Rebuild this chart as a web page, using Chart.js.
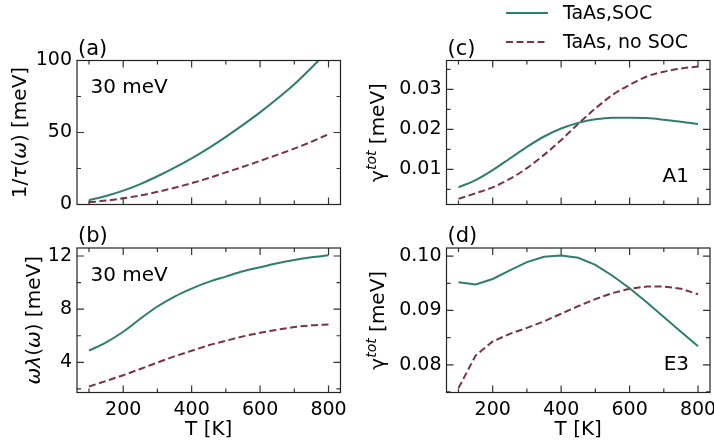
<!DOCTYPE html>
<html>
<head>
<meta charset="utf-8">
<script src="https://cdn.jsdelivr.net/npm/chart.js@4.4.1/dist/chart.umd.min.js"></script>
<style>
  html, body { margin: 0; padding: 0; background: #fff; }
  #wrap { position: relative; width: 714px; height: 447px; overflow: hidden; }
  #wrap canvas { position: absolute; left: 0; top: 0; }
</style>
</head>
<body>
<div id="wrap"></div>
<script>
// temperatures (K)
const temps = [100, 150, 200, 250, 300, 350, 400, 450, 500, 550, 600, 650, 700, 750, 800];

// (a) 1/tau(omega) [meV]
const tauSOC   = [3.0, 5.9, 9.6, 14.2, 19.6, 25.6, 32.1, 39.2, 47.0, 55.3, 64.0, 73.4, 83.5, 95.0, 107.0];
const tauNoSOC = [1.5, 2.7, 4.3, 6.3, 8.8, 11.6, 14.8, 18.4, 22.3, 26.2, 30.3, 34.5, 38.8, 43.6, 48.8];

// (b) omega*lambda(omega) [meV]
const lamSOC   = [4.88, 5.5, 6.3, 7.28, 8.2, 8.95, 9.55, 10.05, 10.45, 10.85, 11.15, 11.45, 11.7, 11.9, 12.05];
const lamNoSOC = [2.18, 2.6, 3.03, 3.5, 3.98, 4.45, 4.87, 5.28, 5.62, 5.95, 6.22, 6.45, 6.65, 6.78, 6.85];

// (c) gamma^tot, A1 [meV]
const a1SOC   = [0.0055, 0.0073, 0.0098, 0.0127, 0.0156, 0.0182, 0.0202, 0.0216, 0.0225, 0.0229, 0.0229, 0.0228, 0.0224, 0.0219, 0.0213];
const a1NoSOC = [0.0026, 0.0040, 0.0055, 0.0076, 0.0103, 0.0136, 0.0173, 0.0214, 0.0252, 0.0286, 0.0311, 0.0332, 0.0344, 0.0352, 0.0357];

// (d) gamma^tot, E3 [meV]
const e3SOC   = [0.0952, 0.0948, 0.0958, 0.0974, 0.0989, 0.0999, 0.1001, 0.0997, 0.0984, 0.0964, 0.0941, 0.0915, 0.0888, 0.0861, 0.0834];
const e3NoSOC = [0.0757, 0.0817, 0.0843, 0.0857, 0.0868, 0.0880, 0.0894, 0.0908, 0.0921, 0.0932, 0.0940, 0.0944, 0.0944, 0.0940, 0.0930];

// ticks
const xTicks = [200, 400, 600, 800];
const xMinor = [100, 300, 500, 700];
const tauTicks = [0, 50, 100],        tauMinor = [25, 75];
const lamTicks = [4, 8, 12],          lamMinor = [2, 6, 10];
const a1Ticks = [0.01, 0.02, 0.03],   a1Minor = [0.005, 0.015, 0.025, 0.035];
const e3Ticks = [0.08, 0.09, 0.10],   e3Minor = [0.075, 0.085, 0.095];

const seriesNames = ['TaAs,SOC', 'TaAs, no SOC'];

const W = 714, H = 447;
const GREEN = '#2e7d6f', MAROON = '#7b3340';
const FONT = 'DejaVu Sans';

function richText(ctx, segs, cx, cy, size) {
  // rotated y-axis title made of mixed upright / italic pieces
  ctx.save();
  ctx.translate(cx, cy);
  ctx.rotate(-Math.PI / 2);
  ctx.fillStyle = '#000';
  ctx.textAlign = 'left';
  ctx.textBaseline = 'alphabetic';
  const widths = segs.map(s => {
    ctx.font = (s.it ? 'italic ' : '') + (s.size || size) + 'px "' + FONT + '"';
    return ctx.measureText(s.t).width;
  });
  let x = -widths.reduce((a, b) => a + b, 0) / 2;
  segs.forEach((s, i) => {
    ctx.font = (s.it ? 'italic ' : '') + (s.size || size) + 'px "' + FONT + '"';
    ctx.fillText(s.t, x, size * 0.32 + (s.dy || 0));
    x += widths[i];
  });
  ctx.restore();
}

function framePlugin(p) {
  return {
    id: 'frame_' + p.tag,
    afterDraw(chart) {
      const {ctx, chartArea: a} = chart;
      const x = chart.scales.x, y = chart.scales.y;
      ctx.save();
      ctx.strokeStyle = '#333';
      ctx.lineWidth = 1.2;
      ctx.beginPath();
      const xt = (list, len) => list.forEach(v => {
        const px = x.getPixelForValue(v);
        ctx.moveTo(px, a.bottom); ctx.lineTo(px, a.bottom - len);
        ctx.moveTo(px, a.top);    ctx.lineTo(px, a.top + len);
      });
      const yt = (list, len) => list.forEach(v => {
        if (v < p.ymin || v > p.ymax) return;
        const py = y.getPixelForValue(v);
        ctx.moveTo(a.left, py);  ctx.lineTo(a.left + len, py);
        ctx.moveTo(a.right, py); ctx.lineTo(a.right - len, py);
      });
      xt(xTicks, 7); xt(xMinor, 4);
      yt(p.yTicks, 7); yt(p.yMinor, 4);
      ctx.stroke();
      ctx.strokeStyle = '#222';
      ctx.strokeRect(a.left, a.top, a.right - a.left, a.bottom - a.top);

      ctx.fillStyle = '#000';
      ctx.textBaseline = 'alphabetic';
      // panel letter
      ctx.textAlign = 'left';
      ctx.font = '21px "' + FONT + '"';
      ctx.fillText(p.tag, a.left + 1, a.top - 6);
      // annotation inside the axes
      ctx.font = '20px "' + FONT + '"';
      if (p.noteAlign === 'right') {
        ctx.textAlign = 'right';
        ctx.fillText(p.note, a.right - 21, a.bottom - 23);
      } else {
        ctx.textAlign = 'left';
        ctx.fillText(p.note, a.left + 13.5, a.top + 32.5);
      }
      richText(ctx, p.ytitle, p.ytx, (a.top + a.bottom) / 2, 20);

      if (p.legend) {
        const ds = chart.data.datasets;
        ds.forEach((d, i) => {
          const ly = 13 + i * 29;
          ctx.save();
          ctx.strokeStyle = d.borderColor;
          ctx.lineWidth = d.borderWidth;
          ctx.setLineDash(d.borderDash || []);
          ctx.beginPath();
          ctx.moveTo(506, ly); ctx.lineTo(548, ly);
          ctx.stroke();
          ctx.restore();
          ctx.textAlign = 'left';
          ctx.textBaseline = 'middle';
          ctx.font = '19px "' + FONT + '"';
          ctx.fillText(d.label, 563, ly + 1);
        });
      }
      ctx.restore();
    }
  };
}

function makePanel(p) {
  const c = document.createElement('canvas');
  c.width = W; c.height = H;
  document.getElementById('wrap').appendChild(c);
  const yW = 60;
  const xH = p.bottomRow ? 52 : 0;
  const pts = v => temps.map((t, i) => ({x: t, y: v[i]}));
  const [l, r, t, b] = p.box;
  return new Chart(c, {
    type: 'line',
    data: {
      datasets: [
        {label: seriesNames[0], data: pts(p.soc), borderColor: GREEN, borderWidth: 2,
         pointRadius: 0, cubicInterpolationMode: p.smooth ? 'monotone' : 'default', tension: 0},
        {label: seriesNames[1], data: pts(p.nosoc), borderColor: MAROON, borderWidth: 2,
         borderDash: [7, 3.5], pointRadius: 0, cubicInterpolationMode: p.smooth ? 'monotone' : 'default', tension: 0}
      ]
    },
    options: {
      responsive: false,
      animation: false,
      devicePixelRatio: 1,
      layout: {padding: {left: l - yW, top: t, right: W - r, bottom: H - b - xH}},
      plugins: {legend: {display: false}, tooltip: {enabled: false}},
      scales: {
        x: {
          type: 'linear', min: 65, max: 835,
          grid: {display: false, drawTicks: false},
          border: {display: false},
          afterBuildTicks: s => { s.ticks = xTicks.map(v => ({value: v})); },
          afterFit: s => { s.height = xH; s.paddingLeft = 0; s.paddingRight = 0; },
          ticks: {display: p.bottomRow, padding: 6, color: '#000', maxRotation: 0, autoSkip: false,
                  font: {family: FONT, size: 19}},
          title: {display: p.bottomRow, text: 'T [K]', color: '#000',
                  font: {family: FONT, size: 20}, padding: {top: 0, bottom: 3}}
        },
        y: {
          type: 'linear', min: p.ymin, max: p.ymax,
          grid: {display: false, drawTicks: false},
          border: {display: false},
          afterBuildTicks: s => { s.ticks = p.yTicks.map(v => ({value: v})); },
          afterFit: s => { s.width = yW; s.paddingTop = 0; s.paddingBottom = 0; },
          ticks: {padding: 5, color: '#000', font: {family: FONT, size: 19},
                  callback: v => v.toFixed(p.dec)}
        }
      }
    },
    plugins: [framePlugin(p)]
  });
}

const gammaTitle = [{t: 'γ'}, {t: 'tot', it: true, size: 14, dy: -8}, {t: ' [meV]'}];

makePanel({
  tag: '(a)', box: [77, 340.5, 60.5, 204.5], bottomRow: false, smooth: true,
  soc: tauSOC, nosoc: tauNoSOC, ymin: 0, ymax: 100, yTicks: tauTicks, yMinor: tauMinor, dec: 0,
  note: '30 meV', ytx: 20,
  ytitle: [{t: '1/'}, {t: 'τ', it: true}, {t: '('}, {t: 'ω', it: true}, {t: ') [meV]'}]
});
makePanel({
  tag: '(b)', box: [77, 340.5, 248, 392.5], bottomRow: true, smooth: true,
  soc: lamSOC, nosoc: lamNoSOC, ymin: 1.73, ymax: 12.6, yTicks: lamTicks, yMinor: lamMinor, dec: 0,
  note: '30 meV', ytx: 34,
  ytitle: [{t: 'ωλ', it: true}, {t: '('}, {t: 'ω', it: true}, {t: ') [meV]'}]
});
makePanel({
  tag: '(c)', box: [446.5, 710, 60.5, 204.5], bottomRow: false, smooth: true, legend: true,
  soc: a1SOC, nosoc: a1NoSOC, ymin: 0.0012, ymax: 0.0372, yTicks: a1Ticks, yMinor: a1Minor, dec: 2,
  note: 'A1', noteAlign: 'right', ytx: 378, ytitle: gammaTitle
});
makePanel({
  tag: '(d)', box: [446.5, 710, 248, 392.5], bottomRow: true, smooth: false,
  soc: e3SOC, nosoc: e3NoSOC, ymin: 0.0749, ymax: 0.1015, yTicks: e3Ticks, yMinor: e3Minor, dec: 2,
  note: 'E3', noteAlign: 'right', ytx: 378, ytitle: gammaTitle
});
</script>
</body>
</html>
